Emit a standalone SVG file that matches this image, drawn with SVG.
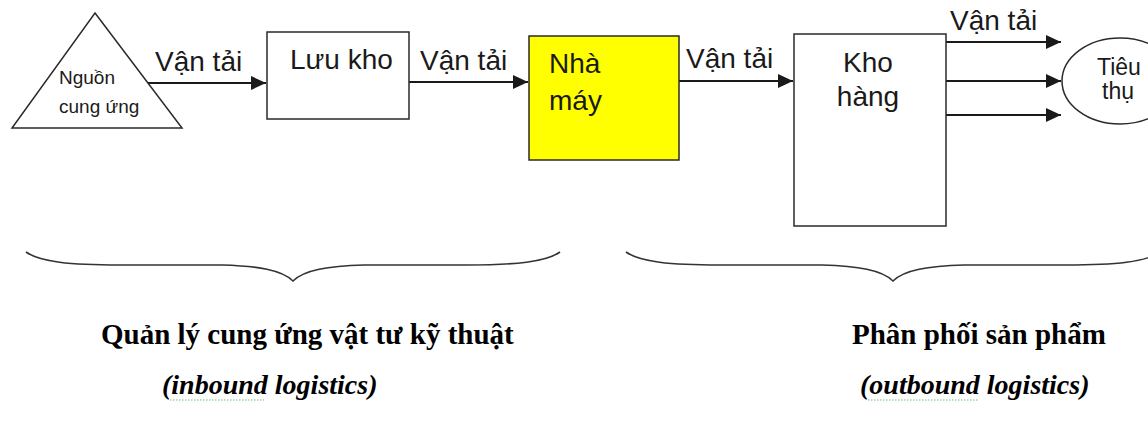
<svg xmlns="http://www.w3.org/2000/svg" width="1148" height="421" viewBox="0 0 1148 421">
<style>
.box{fill:#fff;stroke:#2a2a2a;stroke-width:1.5}
.conn{stroke:#1a1a1a;stroke-width:2;fill:none;marker-end:url(#ah)}
.lbl{font-family:"Liberation Sans",Arial,sans-serif;font-size:28px;fill:#1a1a1a}
.sm{font-family:"Liberation Sans",Arial,sans-serif;font-size:19px;fill:#1a1a1a}
.tt{font-family:"Liberation Sans",Arial,sans-serif;font-size:23px;fill:#1a1a1a}
.brace{fill:none;stroke:#333;stroke-width:1.6}
.big{font-family:"Liberation Serif","Times New Roman",serif;font-weight:bold;font-size:29px;fill:#000}
.it{font-family:"Liberation Serif","Times New Roman",serif;font-weight:bold;font-style:italic;font-size:28px;fill:#000}
.sq{fill:none;stroke:#6cbf6c;stroke-width:1;stroke-dasharray:1.5 1.5}
</style>
<defs>
<marker id="ah" markerUnits="userSpaceOnUse" markerWidth="15" markerHeight="14" refX="15" refY="7" orient="auto">
<path d="M0,0 L15,7 L0,14 z" fill="#1a1a1a"/>
</marker>
</defs>
<rect width="1148" height="421" fill="#fff"/>

<g id="connectors">
<line class="conn" x1="148" y1="83" x2="266" y2="83"/>
<line class="conn" x1="409" y1="82" x2="528" y2="82"/>
<line class="conn" x1="679" y1="81" x2="793" y2="81"/>
<line class="conn" x1="946" y1="42" x2="1061" y2="42"/>
<line class="conn" x1="946" y1="81" x2="1061" y2="81"/>
<line class="conn" x1="946" y1="115" x2="1061" y2="115"/>
<text class="lbl" x="155" y="71">Vận tải</text>
<text class="lbl" x="420" y="70">Vận tải</text>
<text class="lbl" x="686" y="68">Vận tải</text>
<text class="lbl" x="950" y="30">Vận tải</text>
</g>

<g id="node-nguon">
<polygon class="box" points="95,13 182,128 12,128"/>
<text class="sm" x="59" y="84">Nguồn</text>
<text class="sm" x="59" y="113">cung ứng</text>
</g>

<g id="node-luukho">
<rect class="box" x="267" y="32" width="142" height="87"/>
<text class="lbl" x="290" y="69">Lưu kho</text>
</g>

<g id="node-nhamay">
<rect class="box" x="529" y="36" width="150" height="124" style="fill:#ffff00"/>
<text class="lbl" x="549" y="73">Nhà</text>
<text class="lbl" x="549" y="110">máy</text>
</g>

<g id="node-khohang">
<rect class="box" x="794" y="34" width="152" height="192"/>
<text class="lbl" x="868" y="72" text-anchor="middle">Kho</text>
<text class="lbl" x="868" y="106" text-anchor="middle">hàng</text>
</g>

<g id="node-tieuthu">
<ellipse class="box" cx="1120" cy="81" rx="58" ry="43"/>
<text class="tt" x="1097" y="75">Tiêu</text>
<text class="tt" x="1102" y="99">thụ</text>
</g>

<g id="brace-inbound">
<path class="brace" d="M26,252 C40,262 70,265 120,265 L222,265 C258,266 282,270 293,281 C304,270 328,266 364,265 L466,265 C516,265 546,262 560,252"/>
<text class="big" x="101" y="344">Quản lý cung ứng vật tư kỹ thuật</text>
<text class="it" x="162" y="394">(inbound logistics)</text>
<path class="sq" d="M170,400 L264,400"/>
</g>

<g id="brace-outbound">
<path class="brace" d="M626,252 C640,262 670,265 720,265 L822,265 C858,266 882,270 893,281 C904,270 928,266 964,265 L1066,265 C1116,265 1146,262 1160,252"/>
<text class="big" x="852" y="344">Phân phối sản phẩm</text>
<text class="it" x="860" y="394">(outbound logistics)</text>
<path class="sq" d="M868,400 L978,400"/>
</g>
</svg>
